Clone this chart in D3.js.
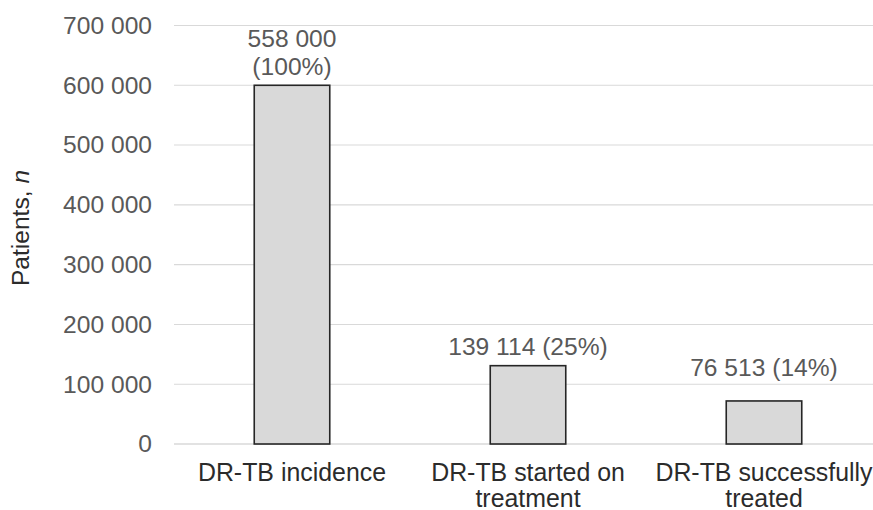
<!DOCTYPE html>
<html>
<head>
<meta charset="utf-8">
<script src="https://cdn.jsdelivr.net/npm/d3@7"></script>
<style>
  html, body { margin: 0; padding: 0; background: #fff; }
  svg { display: block; font-family: "Liberation Sans", Arial, sans-serif; }
</style>
</head>
<body>
<svg id="chart" width="873" height="510"></svg>
<script>
// Data
const categories = ["DR-TB incidence", "DR-TB started on treatment", "DR-TB successfully treated"];
const categoryLines = [["DR-TB incidence"], ["DR-TB started on", "treatment"], ["DR-TB successfully", "treated"]];
const barValues = [600000, 131000, 72000];           // drawn bar heights
const labelLines = [["558 000", "(100%)"], ["139 114 (25%)"], ["76 513 (14%)"]];
const labelGap = [10, 11, 25];                      // gap between label baseline and bar top
const yTicks = [0, 100000, 200000, 300000, 400000, 500000, 600000, 700000];

(function () {
const svg = d3.select("#chart");
const mLeft = 174, mRight = 882, mTop = 25.5, mBottom = 444;
const fontSize = 24.6;
const catFont = 24.9;

const x = d3.scaleBand().domain(categories).range([mLeft, mRight]).paddingInner(0.68).paddingOuter(0.34);
const y = d3.scaleLinear().domain([0, 700000]).range([mBottom, mTop]);

const fmt = v => d3.format(",")(v).replace(/,/g, " ");

// gridlines
svg.append("g").selectAll("line").data(yTicks).join("line")
  .attr("x1", mLeft).attr("x2", 873)
  .attr("y1", d => y(d)).attr("y2", d => y(d))
  .attr("stroke", "#d9d9d9").attr("stroke-width", d => d === 0 ? 1.6 : 1.1);

// y tick labels
const yAxis = d3.axisLeft(y).tickValues(yTicks).tickFormat(fmt).tickSize(0).tickPadding(0);
const gy = svg.append("g").attr("transform", `translate(152,0)`).call(yAxis);
gy.select(".domain").remove();
gy.selectAll("text").attr("fill", "#595959").style("font-size", fontSize + "px")
  .style("font-family", "'Liberation Sans', Arial, sans-serif");

// bars
svg.append("g").selectAll("rect").data(categories).join("rect")
  .attr("x", d => x(d)).attr("width", x.bandwidth())
  .attr("y", (d, i) => y(barValues[i]))
  .attr("height", (d, i) => y(0) - y(barValues[i]))
  .attr("fill", "#d9d9d9").attr("stroke", "#262626").attr("stroke-width", 1.6);

// data labels
categories.forEach((c, i) => {
  const lines = labelLines[i];
  const base = y(barValues[i]) - labelGap[i];
  lines.forEach((t, j) => {
    svg.append("text")
      .attr("x", x(c) + x.bandwidth() / 2)
      .attr("y", base - (lines.length - 1 - j) * 28)
      .attr("text-anchor", "middle")
      .attr("fill", "#595959")
      .style("font-size", fontSize + "px")
      .text(t);
  });
});

// category labels
categories.forEach((c, i) => {
  categoryLines[i].forEach((t, j) => {
    svg.append("text")
      .attr("x", x(c) + x.bandwidth() / 2)
      .attr("y", 480.5 + j * 26.5)
      .attr("text-anchor", "middle")
      .attr("fill", "#2b2b2b")
      .style("font-size", catFont + "px")
      .text(t);
  });
});

// y axis title
const yt = svg.append("text")
  .attr("transform", "translate(29,228) rotate(-90)")
  .attr("text-anchor", "middle")
  .attr("fill", "#2b2b2b")
  .style("font-size", fontSize + "px");
yt.append("tspan").text("Patients, ");
yt.append("tspan").style("font-style", "italic").text("n");
})();
</script>
</body>
</html>
